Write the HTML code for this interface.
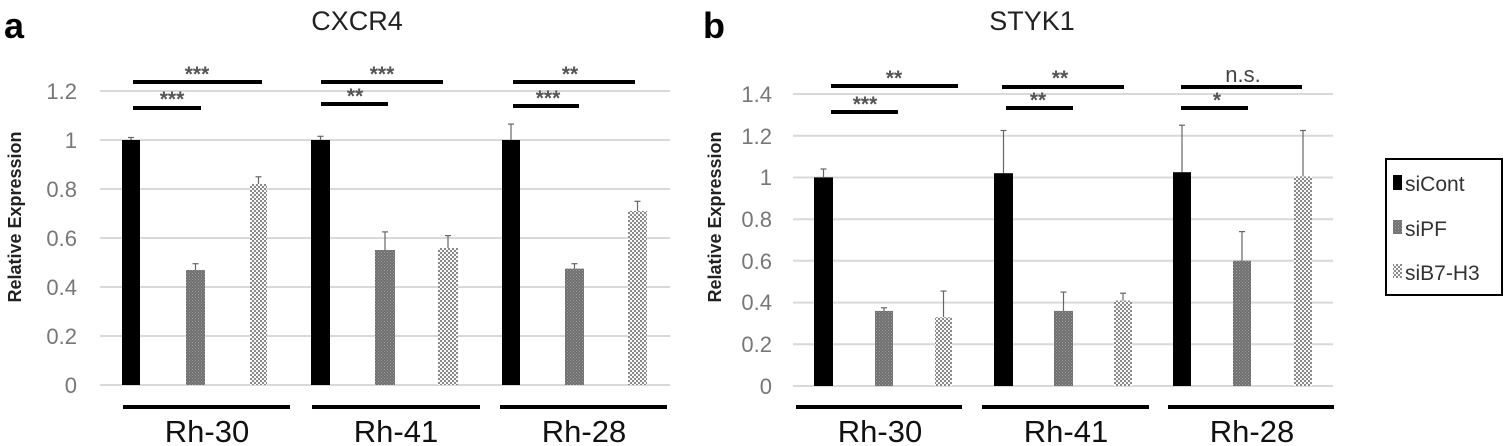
<!DOCTYPE html>
<html><head><meta charset="utf-8"><style>
html,body{margin:0;padding:0;background:#fff}
svg{display:block}
text{font-family:"Liberation Sans",sans-serif}
</style></head><body>
<svg width="1505" height="446" viewBox="0 0 1505 446" xmlns="http://www.w3.org/2000/svg">
<defs>
<pattern id="gp" width="3" height="3" patternUnits="userSpaceOnUse"><rect width="3" height="3" fill="#6e6e6e"/><rect x="0" y="0" width="1" height="1" fill="#a0a0a0"/><rect x="1.5" y="1.5" width="1" height="1" fill="#a0a0a0"/></pattern>
<pattern id="dp" width="4" height="4" patternUnits="userSpaceOnUse"><rect width="4" height="4" fill="#f8f8f8"/><rect x="0" y="0" width="2" height="2" fill="#8a8a8a"/><rect x="2" y="2" width="2" height="2" fill="#8a8a8a"/></pattern>
</defs>

<!-- Panel a -->
<text x="4" y="38" font-size="36" font-weight="bold">a</text>
<text x="357" y="30" font-size="27" text-anchor="middle" fill="#222">CXCR4</text>
<g stroke="#d9d9d9" stroke-width="2">
<line x1="100" x2="670" y1="385" y2="385"/><line x1="100" x2="670" y1="336" y2="336"/><line x1="100" x2="670" y1="287" y2="287"/><line x1="100" x2="670" y1="238" y2="238"/><line x1="100" x2="670" y1="189" y2="189"/><line x1="100" x2="670" y1="140" y2="140"/><line x1="100" x2="670" y1="91" y2="91"/>
</g>
<g font-size="22" fill="#777" text-anchor="end">
<text x="77" y="393">0</text><text x="77" y="344">0.2</text><text x="77" y="295">0.4</text><text x="77" y="246">0.6</text><text x="77" y="197">0.8</text><text x="77" y="148">1</text><text x="77" y="99">1.2</text>
</g>
<text transform="translate(21,217) rotate(-90)" font-size="18" font-weight="bold" text-anchor="middle" fill="#222">Relative Expression</text>
<g stroke="#666" stroke-width="1.2">
<line x1="131" x2="131" y1="140" y2="137.5"/><line x1="128" x2="134" y1="137.5" y2="137.5"/>
<line x1="195.5" x2="195.5" y1="270" y2="263.7"/><line x1="192.5" x2="198.5" y1="263.7" y2="263.7"/>
<line x1="258.5" x2="258.5" y1="184" y2="176.8"/><line x1="255.5" x2="261.5" y1="176.8" y2="176.8"/>
<line x1="320.5" x2="320.5" y1="140" y2="136.3"/><line x1="317.5" x2="323.5" y1="136.3" y2="136.3"/>
<line x1="385" x2="385" y1="250" y2="231.9"/><line x1="382" x2="388" y1="231.9" y2="231.9"/>
<line x1="448" x2="448" y1="248" y2="235.6"/><line x1="445" x2="451" y1="235.6" y2="235.6"/>
<line x1="511" x2="511" y1="140" y2="124.1"/><line x1="508" x2="514" y1="124.1" y2="124.1"/>
<line x1="574.5" x2="574.5" y1="268.6" y2="263.7"/><line x1="571.5" x2="577.5" y1="263.7" y2="263.7"/>
<line x1="637.5" x2="637.5" y1="211" y2="201.3"/><line x1="634.5" x2="640.5" y1="201.3" y2="201.3"/>
</g>
<rect x="122" y="140" width="18" height="245" fill="#000"/>
<rect x="186" y="270" width="19" height="115" fill="url(#gp)"/>
<rect x="250" y="184" width="17" height="201" fill="url(#dp)"/>
<rect x="311" y="140" width="19" height="245" fill="#000"/>
<rect x="375" y="250" width="20" height="135" fill="url(#gp)"/>
<rect x="438" y="248" width="20" height="137" fill="url(#dp)"/>
<rect x="502" y="140" width="18" height="245" fill="#000"/>
<rect x="565" y="268.6" width="19" height="116.4" fill="url(#gp)"/>
<rect x="628" y="211" width="19" height="174" fill="url(#dp)"/>
<g stroke="#000" stroke-width="4">
<line x1="133" x2="262" y1="82" y2="82"/><line x1="133" x2="201" y1="108" y2="108"/>
<line x1="321" x2="443" y1="82" y2="82"/><line x1="321" x2="388" y1="104" y2="104"/>
<line x1="513" x2="635" y1="82" y2="82"/><line x1="513" x2="579" y1="106" y2="106"/>
<line x1="123" x2="290" y1="407" y2="407"/><line x1="312" x2="480" y1="407" y2="407"/><line x1="500" x2="667" y1="407" y2="407"/>
</g>
<g font-size="21" font-weight="bold" fill="#555" text-anchor="middle">
<text x="197" y="81">***</text><text x="172" y="106">***</text>
<text x="382" y="81">***</text><text x="355" y="103">**</text>
<text x="570" y="81">**</text><text x="548" y="105">***</text>
</g>
<g font-size="31" text-anchor="middle" fill="#111">
<text x="207" y="442">Rh-30</text><text x="396" y="442">Rh-41</text><text x="584" y="442">Rh-28</text>
</g>

<!-- Panel b -->
<text x="703" y="38" font-size="36" font-weight="bold">b</text>
<text x="1032" y="30" font-size="27" text-anchor="middle" fill="#222">STYK1</text>
<g stroke="#d9d9d9" stroke-width="2">
<line x1="793" x2="1333" y1="386" y2="386"/><line x1="793" x2="1333" y1="344.3" y2="344.3"/><line x1="793" x2="1333" y1="302.6" y2="302.6"/><line x1="793" x2="1333" y1="260.8" y2="260.8"/><line x1="793" x2="1333" y1="219.2" y2="219.2"/><line x1="793" x2="1333" y1="177.5" y2="177.5"/><line x1="793" x2="1333" y1="135.8" y2="135.8"/><line x1="793" x2="1333" y1="94" y2="94"/>
</g>
<g font-size="22" fill="#777" text-anchor="end">
<text x="772" y="394">0</text><text x="772" y="352">0.2</text><text x="772" y="310">0.4</text><text x="772" y="269">0.6</text><text x="772" y="227">0.8</text><text x="772" y="185">1</text><text x="772" y="144">1.2</text><text x="772" y="102">1.4</text>
</g>
<text transform="translate(721,217) rotate(-90)" font-size="18" font-weight="bold" text-anchor="middle" fill="#222">Relative Expression</text>
<g stroke="#666" stroke-width="1.2">
<line x1="823.5" x2="823.5" y1="177" y2="169"/><line x1="820.5" x2="826.5" y1="169" y2="169"/>
<line x1="884" x2="884" y1="311" y2="307.8"/><line x1="881" x2="887" y1="307.8" y2="307.8"/>
<line x1="943.5" x2="943.5" y1="317" y2="291.1"/><line x1="940.5" x2="946.5" y1="291.1" y2="291.1"/>
<line x1="1003.5" x2="1003.5" y1="173" y2="130.5"/><line x1="1000.5" x2="1006.5" y1="130.5" y2="130.5"/>
<line x1="1063.5" x2="1063.5" y1="311" y2="292.1"/><line x1="1060.5" x2="1066.5" y1="292.1" y2="292.1"/>
<line x1="1123" x2="1123" y1="300.5" y2="293.2"/><line x1="1120" x2="1126" y1="293.2" y2="293.2"/>
<line x1="1182" x2="1182" y1="172" y2="125.2"/><line x1="1179" x2="1185" y1="125.2" y2="125.2"/>
<line x1="1242" x2="1242" y1="261" y2="231.6"/><line x1="1239" x2="1245" y1="231.6" y2="231.6"/>
<line x1="1303" x2="1303" y1="176.4" y2="130.5"/><line x1="1300" x2="1306" y1="130.5" y2="130.5"/>
</g>
<rect x="814" y="177.4" width="19" height="208.6" fill="#000"/>
<rect x="875" y="310.9" width="18" height="75.1" fill="url(#gp)"/>
<rect x="935" y="317.2" width="17" height="68.8" fill="url(#dp)"/>
<rect x="994" y="173.2" width="19" height="212.8" fill="#000"/>
<rect x="1054" y="310.9" width="19" height="75.1" fill="url(#gp)"/>
<rect x="1114" y="300.5" width="18" height="85.5" fill="url(#dp)"/>
<rect x="1173" y="172.2" width="18" height="213.8" fill="#000"/>
<rect x="1233" y="260.8" width="18" height="125.2" fill="url(#gp)"/>
<rect x="1294" y="176.4" width="18" height="209.6" fill="url(#dp)"/>
<g stroke="#000" stroke-width="4">
<line x1="831" x2="958" y1="86" y2="86"/><line x1="831" x2="898" y1="112" y2="112"/>
<line x1="1002" x2="1124" y1="87" y2="87"/><line x1="1006" x2="1073" y1="108" y2="108"/>
<line x1="1181" x2="1302" y1="87" y2="87"/><line x1="1181" x2="1248" y1="108" y2="108"/>
<line x1="796" x2="962" y1="407" y2="407"/><line x1="982" x2="1149" y1="407" y2="407"/><line x1="1168" x2="1334" y1="407" y2="407"/>
</g>
<g font-size="21" font-weight="bold" fill="#555" text-anchor="middle">
<text x="894" y="85">**</text><text x="865" y="111">***</text>
<text x="1060" y="85">**</text><text x="1038" y="107">**</text>
<text x="1217" y="107">*</text>
</g>
<text x="1243" y="82" font-size="22" fill="#444" text-anchor="middle">n.s.</text>
<g font-size="31" text-anchor="middle" fill="#111">
<text x="880" y="442">Rh-30</text><text x="1066" y="442">Rh-41</text><text x="1252" y="442">Rh-28</text>
</g>

<!-- Legend -->
<rect x="1386" y="159" width="116" height="136" fill="#fff" stroke="#000" stroke-width="2"/>
<rect x="1393" y="175" width="9" height="15" fill="#000"/>
<rect x="1393" y="220" width="9" height="14" fill="url(#gp)"/>
<rect x="1393" y="264" width="9" height="14" fill="url(#dp)"/>
<g font-size="21" fill="#333">
<text x="1405" y="191">siCont</text><text x="1405" y="236">siPF</text><text x="1405" y="280">siB7-H3</text>
</g>
</svg>
</body></html>
